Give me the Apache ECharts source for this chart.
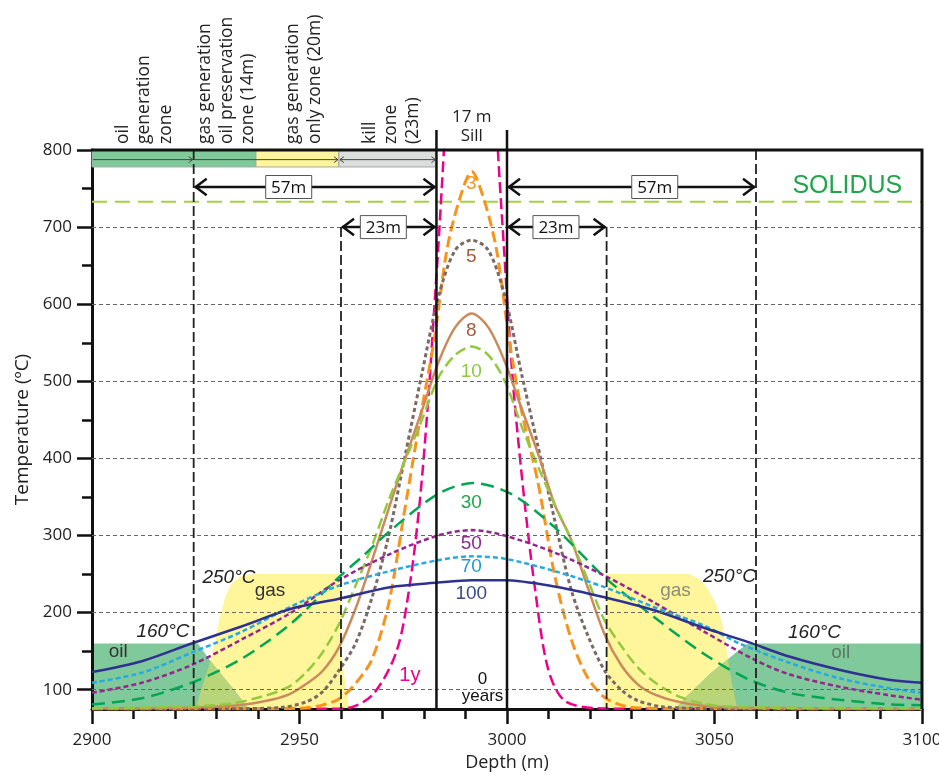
<!DOCTYPE html>
<html><head><meta charset="utf-8">
<script src="https://cdn.jsdelivr.net/npm/echarts@6/dist/echarts.min.js"></script>
<style>html,body{margin:0;padding:0;background:#fff}#c{width:939px;height:775px}</style>
</head><body><div id="c"></div>
<script>
// ---------------- data ----------------
const xTickValues = [2900, 2950, 3000, 3050, 3100];
const yLabelValues = [100, 200, 300, 400, 500, 600, 700, 800];
const yMinorValues = [150, 250, 350, 450, 550, 650, 750];
const gridTemps = [100, 200, 300, 400, 500, 600, 700];
const solidusTemp = 733;
const sillEdges = [2983, 3000];
const zoneLinesFull = [2924.5, 3060];
const zoneLinesKill = [2960, 3024];

// temperature profiles [depth (m), temperature (°C)]
const t1y = [[2900,75],[2955,75.3],[2961.3,76],[2967.7,94],[2973.4,150],[2976.6,237],[2979,345],[2981,475],[2982.6,605],[2983.4,670],[2984.8,800],[2986.3,950],[2991.5,1050],[2996.5,950],[2997.8,800],[2999.3,670],[3000.6,560],[3001.8,475],[3004.2,345],[3006.6,237],[3009.8,129],[3013.8,86],[3021.9,76],[3030,75.3],[3100,75]];
const t3 = [[2900,75],[2941.5,75.3],[2951.5,76.5],[2955.5,80],[2959.5,88],[2963.5,108],[2967.5,140],[2971.5,212],[2975.5,338],[2979.5,465],[2982.5,555],[2985.5,670],[2988.5,735],[2991.5,772],[2994.5,735],[2997.5,670],[3000.5,555],[3003.5,462],[3007.5,368],[3011.5,248],[3015.5,165],[3019.5,115],[3023.5,90],[3027.5,80],[3031.5,76.5],[3041.5,75.3],[3100,75]];
const t5 = [[2900,75],[2931.5,75.3],[2945.5,77],[2951.5,84],[2955.5,97],[2959.5,125],[2963.5,160],[2967.5,220],[2971.5,300],[2975.5,405],[2979.5,510],[2983.5,610],[2987.5,670],[2991.5,683],[2995.5,670],[2999.5,610],[3003.5,510],[3007.5,415],[3011.5,320],[3015.5,229],[3019.5,170],[3023.5,125],[3027.5,100],[3031.5,86],[3037.5,78],[3051.5,75.3],[3100,75]];
const t8 = [[2900,75.5],[2915,76],[2933.5,79],[2941.5,85],[2947.5,94],[2951.5,107],[2955.5,124],[2959.5,155],[2963.5,205],[2967.5,268],[2971.5,335],[2975.5,400],[2979.5,462],[2983.5,525],[2987.5,570],[2991.5,588],[2995.5,570],[2999.5,525],[3003.5,465],[3007.5,406],[3011.5,340],[3015.5,294],[3019.5,232],[3023.5,172],[3027.5,132],[3031.5,107],[3035.5,94],[3041.5,84],[3049.5,78],[3070,76],[3100,75.5]];
const t10 = [[2900,76],[2921.5,78],[2933.5,82],[2941.5,92],[2947.5,104],[2951.5,122],[2955.5,148],[2959.5,185],[2963.5,235],[2967.5,287],[2971.5,346],[2975.5,398],[2979.5,450],[2983.5,505],[2987.5,534],[2991.5,545],[2995.5,534],[2999.5,500],[3003.5,442],[3007.5,389],[3011.5,340],[3015.5,294],[3019.5,242],[3023.5,190],[3027.5,157],[3031.5,129],[3035.5,110],[3041.5,91],[3049.5,80],[3061.5,77],[3100,76]];
const t30 = [[2900,81],[2912,89],[2924,109],[2936,140],[2948,186],[2959.5,246],[2965.4,274],[2971.8,306],[2983.4,354],[2991.8,368],[3001,354],[3011.4,311],[3023.5,246],[3035.5,194],[3047.6,146],[3058,114],[3068,96],[3080,87],[3092,81],[3100,80]];
const t50 = [[2900,96],[2912,109],[2924,132],[2936,165],[2948,200],[2959.5,242],[2971.8,276],[2983.4,300],[2991.5,307],[2999.4,300],[3011.4,278],[3023.5,248],[3035.5,213],[3047.6,175],[3059.6,139],[3068,120],[3080,104],[3092,93],[3100,87]];
const t70 = [[2900,109],[2912,122],[2924,148],[2936,175],[2948,208],[2959.5,235],[2971.8,254],[2983.4,268],[2991.5,273],[2999.4,270],[3011.4,254],[3023.5,233],[3035.5,207],[3047.6,183],[3056,160],[3068,135],[3080,115],[3092,102],[3100,96]];
const t100 = [[2900,123],[2912,137],[2924,160],[2936,182],[2948,205],[2959.5,218],[2971.8,233],[2983.4,239],[2991.5,242],[2999.4,242],[3011.4,234],[3023.5,220],[3035.5,203],[3047.6,180],[3058,162],[3068,143],[3080,126],[3092,113],[3100,109]];

// shaded windows [depth, temperature]
const gasLeft = [[2939,250],[2935.8,247],[2933.6,238],[2932.2,222],[2930.8,195],[2929.6,160],[2928,128],[2926.3,100],[2925,75],[2962,75],[2961,110],[2960,150],[2960,250]];
const oilLeft = [[2900,160],[2925.5,160],[2928,141],[2931.3,119],[2934.5,98],[2937.8,75],[2900,75]];
const overlapLeft = [[2928.5,137],[2931.3,119],[2934.5,98],[2937.8,75],[2925,75],[2926.3,100],[2928,128]];
const gasRight = [[3024,250],[3044,250],[3046.5,243],[3048.5,230],[3050.3,212],[3051.7,190],[3052.7,160],[3053.5,130],[3054.5,100],[3055.5,75],[3023,75],[3024,110]];
const oilRight = [[3100,160],[3058,160],[3056,152],[3049,121],[3043,90],[3040.5,75],[3100,75]];
const overlapRight = [[3053.3,140],[3049,121],[3043,90],[3040.5,75],[3055.5,75],[3054.5,100],[3053.5,130]];

// top zone bar boundaries (m)
const zoneBars = [[2900, 2939.5], [2939.5, 2959.5], [2959.5, 2983]];
const zoneBarArrows = [[2900, 2924.5], [2924.5, 2959.5], [2959.5, 2983]];

// ---------------- styles ----------------
const curveDefs = [
  {name:'1y',  data:t1y,  color:'#ec008c', width:2.5, dash:[11,5]},
  {name:'3',   data:t3,   color:'#f7941d', width:3,   dash:[11,5]},
  {name:'5',   data:t5,   color:'#7b6a62', width:3,   dash:[4,3]},
  {name:'8',   data:t8,   color:'#c98a5c', width:2.5, dash:'solid'},
  {name:'10',  data:t10,  color:'#95c93d', width:2.5, dash:[11,5]},
  {name:'30',  data:t30,  color:'#00a651', width:2.5, dash:[13,7]},
  {name:'50',  data:t50,  color:'#93278f', width:2.5, dash:[5,3]},
  {name:'70',  data:t70,  color:'#27aae1', width:2.5, dash:[5,3]},
  {name:'100', data:t100, color:'#2e3192', width:2.5, dash:'solid'}
];
const regionDefs = [
  {pts:gasLeft, fill:'#fff59b'}, {pts:gasRight, fill:'#fff59b'},
  {pts:oilLeft, fill:'#80c99b'}, {pts:oilRight, fill:'#80c99b'},
  {pts:overlapLeft, fill:'#b8d679'}, {pts:overlapRight, fill:'#b8d679'}
];

const tickStyle = {color:'#111', width:2.5};
const option = {
  animation:false,
  backgroundColor:'#fff',
  grid:{left:92, right:17, top:150, bottom:66, containLabel:false, outerBoundsMode:'none'},
  xAxis:{type:'value', min:2900, max:3100, interval:50, z:2,
    axisLine:{show:true, onZero:false, lineStyle:{color:'#111', width:3}},
    axisTick:{show:true, inside:false, length:15, lineStyle:tickStyle},
    minorTick:{show:true, splitNumber:5, length:10, lineStyle:tickStyle},
    splitLine:{show:false}, minorSplitLine:{show:false},
    axisLabel:{color:'#222', fontSize:17, fontFamily:'Open Sans', margin:23, customValues:xTickValues,
      formatter:v => String(v)},
    name:'Depth (m)', nameLocation:'middle', nameGap:41,
    nameTextStyle:{fontSize:18, color:'#222', fontFamily:'Open Sans'}},
  yAxis:[
    {type:'value', min:75, max:800, z:2,
      axisLine:{show:true, onZero:false, lineStyle:{color:'#111', width:3}},
      axisTick:{show:true, inside:false, length:15, customValues:yLabelValues, lineStyle:tickStyle},
      axisLabel:{color:'#222', fontSize:17, fontFamily:'Open Sans', margin:20, customValues:yLabelValues,
        formatter:v => String(v)},
      splitLine:{show:false},
      name:'Temperature (ºC)', nameLocation:'middle', nameGap:56,
      nameTextStyle:{fontSize:19, color:'#222', fontFamily:'Open Sans'}},
    {type:'value', min:75, max:800, position:'left', z:2,
      axisLine:{show:false}, axisLabel:{show:false}, splitLine:{show:false},
      axisTick:{show:true, inside:false, length:10, customValues:yMinorValues, lineStyle:tickStyle}}
  ],
  series:[
    {type:'custom', z:1, silent:true, clip:false,
      data: regionDefs.map((r,i)=>[2950, 400, i]), encode:{x:0, y:1},
      renderItem:(params, api)=>{
        const r = regionDefs[params.dataIndex];
        return {type:'polygon', shape:{points:r.pts.map(p=>api.coord(p))}, style:{fill:r.fill}};
      }},
    {type:'line', name:'solidus', z:2, silent:true, symbol:'none',
      data:[[2900, solidusTemp],[3100, solidusTemp]],
      lineStyle:{color:'#a8cf45', width:2, type:[15,8]},
      markLine:{silent:true, symbol:'none', label:{show:false},
        lineStyle:{color:'#666', width:1, type:[4,3]},
        data:gridTemps.map(t=>({yAxis:t}))}}
  ].concat(curveDefs.map(c=>({
    type:'line', name:c.name, data:c.data, z:3, symbol:'none', smooth:0.3, silent:true,
    lineStyle:{color:c.color, width:c.width, type:c.dash}
  })))
};

const chart = echarts.init(document.getElementById('c'));
chart.setOption(option);

// ---------------- annotations ----------------
const P = (x, y) => chart.convertToPixel({xAxisIndex:0, yAxisIndex:0}, [x, y]);
const G = [];
function line(a, b, stroke, w, dash, z) {
  G.push({type:'line', z:z||10, silent:true, shape:{x1:a[0], y1:a[1], x2:b[0], y2:b[1]},
    style:{stroke, lineWidth:w, lineDash:dash||null}});
}
function txt(x, y, text, o) {
  const p = P(x, y);
  G.push({type:'text', z:20, silent:true, x:p[0], y:p[1],
    style:Object.assign({text, fill:'#222', fontSize:17, fontFamily:'Open Sans',
      align:'center', verticalAlign:'middle', textAlign:'center', textVerticalAlign:'middle'}, o||{})});
}
function chevron(p, dir, size, stroke, w) {
  G.push({type:'polyline', z:12, silent:true,
    shape:{points:[[p[0]-dir*size, p[1]-size*0.75],[p[0], p[1]],[p[0]-dir*size, p[1]+size*0.75]]},
    style:{stroke, lineWidth:w, fill:null}});
}
function dim(x1, x2, T, label, cx) {
  const a = P(x1, T), b = P(x2, T);
  line([a[0]+1, a[1]], [b[0]-1, b[1]], '#111', 2.5);
  chevron([a[0]+2, a[1]], -1, 11, '#111', 2.5);
  chevron([b[0]-2, b[1]], 1, 11, '#111', 2.5);
  const c = P(cx, T);
  const w = 46, h = 23;
  G.push({type:'rect', z:14, silent:true, shape:{x:c[0]-w/2, y:c[1]-h/2, width:w, height:h},
    style:{fill:'#fff', stroke:'#555', lineWidth:1}});
  G.push({type:'text', z:20, silent:true, x:c[0], y:c[1]+1,
    style:{text:label, fill:'#111', fontSize:17, fontFamily:'Open Sans', align:'center', verticalAlign:'middle'}});
}

// top zone bars
const barColors = ['#80c99b', '#fff59b', '#dcdddd'];
zoneBars.forEach((z, i) => {
  const a = P(z[0], 800), b = P(z[1], 778);
  G.push({type:'rect', z:5, silent:true, shape:{x:a[0], y:a[1], width:b[0]-a[0], height:b[1]-a[1]},
    style:{fill:barColors[i], stroke:'#a5a5a5', lineWidth:1}});
});
zoneBarArrows.forEach((z, i) => {
  const a = P(z[0], 787.5), b = P(z[1], 787.5);
  line([a[0]+1, a[1]], [b[0]-1, b[1]], '#444', 1, null, 6);
  chevron([b[0]-1, b[1]], 1, 4, '#444', 1);
  if (i === 2) chevron([a[0]+1, a[1]], -1, 4, '#444', 1);
});

// frame (top & right)
const tl = P(2900, 800), tr = P(3100, 800), br = P(3100, 75);
G.push({type:'polyline', z:15, silent:true, shape:{points:[[tl[0]-1, tl[1]], [tr[0], tr[1]], [br[0], br[1]]]},
  style:{stroke:'#111', lineWidth:3, fill:null}});

// zone boundaries (dashed verticals)
zoneLinesFull.forEach(x => line(P(x, 800), P(x, 75), '#222', 1.8, [10,4], 9));
zoneLinesKill.forEach(x => line(P(x, 700), P(x, 75), '#222', 1.8, [10,4], 9));
// sill contacts
sillEdges.forEach(x => line(P(x, 826), P(x, 75), '#111', 2.5, null, 9));

// dimension arrows
dim(2924.5, 2983, 752, '57m', 2947.4);
dim(3000, 3060, 752, '57m', 3035.6);
dim(2960, 2983, 700, '23m', 2970.2);
dim(3000, 3024, 700, '23m', 3011.8);

// top rotated labels
const topLabels = [
  [2904.8, 'oil\ngeneration\nzone'],
  [2924.7, 'gas generation\noil preservation\nzone (14m)'],
  [2945.9, 'gas generation\nonly zone (20m)'],
  [2964.4, 'kill\nzone\n(23m)']
];
topLabels.forEach(t => {
  const p = P(t[0], 807.8);
  G.push({type:'text', z:20, silent:true, x:p[0], y:p[1], rotation:Math.PI/2,
    style:{text:t[1], fill:'#222', fontSize:17.5, lineHeight:21.5, fontFamily:'Open Sans',
      align:'left', verticalAlign:'top', textAlign:'left', textVerticalAlign:'top'}});
});
txt(2991.5, 843, '17 m', {fontSize:17});
txt(2991.5, 818, 'Sill', {fontSize:17});

// SOLIDUS
txt(3082, 753, 'SOLIDUS', {fill:'#1fa64b', fontSize:25, fontFamily:'Liberation Sans'});

// curve labels
const curveLabel = (T, s, col) => txt(2991.4, T, s, {fill:col, fontSize:19, fontFamily:'Liberation Sans'});
curveLabel(756, '3', '#f7941d');
curveLabel(662, '5', '#a65a3c');
curveLabel(565, '8', '#a65a3c');
curveLabel(513, '10', '#8dc63f');
curveLabel(343, '30', '#1ea64b');
curveLabel(289, '50', '#93278f');
curveLabel(260, '70', '#1c9ad6');
curveLabel(225, '100', '#3b4a8c');
txt(2994.1, 113, '0', {fontSize:17, fontFamily:'Liberation Sans', fill:'#111'});
txt(2994.1, 91, 'years', {fontSize:17, fontFamily:'Liberation Sans', fill:'#111'});
txt(2976.6, 119, '1y', {fontSize:20, fontFamily:'Liberation Sans', fill:'#ec008c'});

// window labels
const it = {fontSize:19, fontFamily:'Liberation Sans', fontStyle:'italic', fill:'#222'};
txt(2933, 245, '250°C', it);
txt(3053.6, 246, '250°C', it);
txt(2917.1, 175, '160°C', it);
txt(3074.1, 173.5, '160°C', it);
txt(2942.9, 228, 'gas', {fontSize:19, fontFamily:'Liberation Sans', fill:'#333'});
txt(3040.6, 228, 'gas', {fontSize:19, fontFamily:'Liberation Sans', fill:'#8c8c7c'});
txt(2906.3, 149, 'oil', {fontSize:19, fontFamily:'Liberation Sans', fill:'#333'});
txt(3080.4, 148, 'oil', {fontSize:19, fontFamily:'Liberation Sans', fill:'#5d7a68'});

chart.setOption({graphic:{elements:G}});
</script></body></html>
